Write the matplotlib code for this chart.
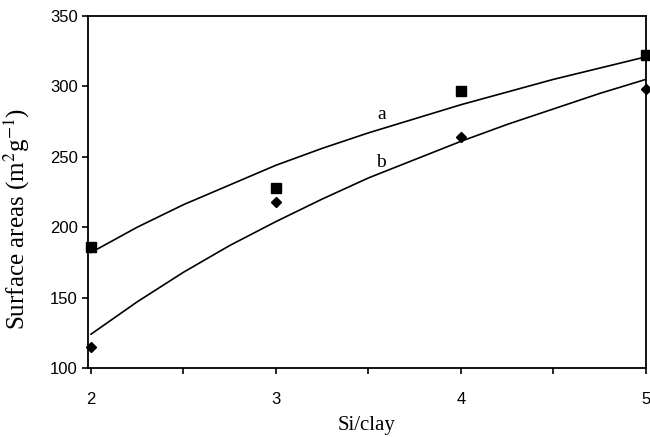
import matplotlib
matplotlib.use("Agg")
import matplotlib.pyplot as plt
from matplotlib.ticker import MultipleLocator

# Measured data points
si_clay = [2, 3, 4, 5]
series_a_pts = [186, 228, 297, 322]
series_b_pts = [115, 218, 264, 298]

# Fitted curves
curve_x = [2.0, 2.25, 2.5, 2.75, 3.0, 3.25, 3.5, 3.75, 4.0, 4.25, 4.5, 4.75, 5.0]
curve_a = [182, 200, 216, 230, 244, 256, 267, 277, 287, 296, 305, 313, 321]
curve_b = [124, 147, 168, 187, 204, 220, 235, 248, 261, 273, 284, 295, 305]

plt.rcParams['mathtext.fontset'] = 'stix'

fig = plt.figure(figsize=(6.5, 4.37), dpi=100)
ax = fig.add_axes([0.1354, 0.1579, 0.8584, 0.8055])

ax.plot(curve_x, curve_a, color='black', lw=1.2)
ax.plot(curve_x, curve_b, color='black', lw=1.2)
ax.plot(si_clay, series_a_pts, 's', color='black', ms=7.5, clip_on=False, zorder=5)
ax.plot(si_clay, series_b_pts, 'D', color='black', ms=5.5, clip_on=False, zorder=5)

ax.text(3.57, 280, 'a', fontsize=14, family='Liberation Serif', ha='center', va='center')
ax.text(3.57, 246, 'b', fontsize=14, family='Liberation Serif', ha='center', va='center')

ax.set_xlim(1.984, 5)
ax.set_ylim(100, 350)
ax.xaxis.set_major_locator(MultipleLocator(1))
ax.xaxis.set_minor_locator(MultipleLocator(0.5))
ax.yaxis.set_major_locator(MultipleLocator(50))
ax.tick_params(axis='both', which='both', direction='out', length=4, width=1.2,
               labelsize=12, top=False, right=False)
ax.tick_params(axis='x', pad=13)
for lab in ax.get_xticklabels() + ax.get_yticklabels():
    lab.set_family('Liberation Sans')
for sp in ax.spines.values():
    sp.set_linewidth(1.3)

ax.set_xlabel('Si/clay', fontsize=15, family='Liberation Serif', labelpad=7)
ax.set_ylabel('Surface areas (m$^2$g$^{-1}$)', fontsize=18, family='Liberation Serif')
ax.yaxis.set_label_coords(-0.1, 0.423)

fig.savefig('out.png', dpi=100)
